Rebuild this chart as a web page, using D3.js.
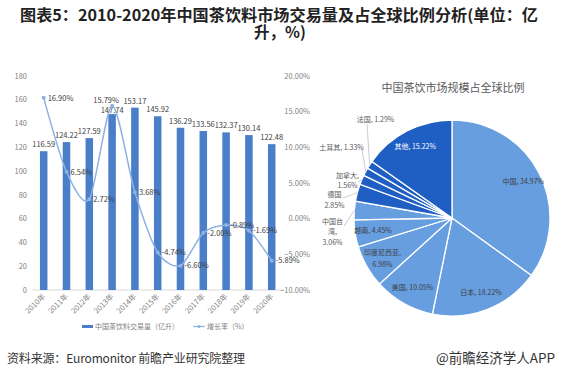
<!DOCTYPE html>
<html><head><meta charset="utf-8">
<script src="https://cdn.jsdelivr.net/npm/d3@7/dist/d3.min.js"></script>
<style>
body{margin:0;background:#fff;}
svg{display:block;font-family:"Noto Sans CJK SC","Noto Sans",sans-serif;}
</style>
</head><body>
<svg id="c" width="561" height="385"></svg>
<script>
// ---------- data ----------
const years = ["2010年","2011年","2012年","2013年","2014年","2015年","2016年","2017年","2018年","2019年","2020年"];
const volume = [116.59,124.22,127.59,147.74,153.17,145.92,136.29,133.56,132.37,130.14,122.48];
const growth = [16.90,6.54,2.72,15.79,3.68,-4.74,-6.60,-2.00,-0.89,-1.69,-5.89];
const leftTicks = [0,20,40,60,80,100,120,140,160,180];
const rightTicks = [-10,-5,0,5,10,15,20];
const countries = ["中国","日本","美国","印度尼西亚","越南","中国台湾","德国","加拿大","土耳其","法国","其他"];
const shares = [34.97,18.22,10.05,6.98,4.45,3.06,2.85,1.56,1.33,1.29,15.22];

const svg = d3.select("#c");

// ---------- title ----------
svg.append("text").attr("text-anchor","middle").attr("font-weight","bold")
  .attr("font-size",15.5).attr("fill","#222")
  .attr("x",279).attr("y",21).attr("textLength",518).attr("lengthAdjust","spacingAndGlyphs")
  .text("图表5：2010-2020年中国茶饮料市场交易量及占全球比例分析(单位：亿");
svg.append("text").attr("text-anchor","middle").attr("font-weight","bold")
  .attr("font-size",15.5).attr("fill","#222")
  .attr("x",280).attr("y",38).text("升，%)");

// ---------- left combo chart ----------
const x = d3.scaleBand().domain(years).range([32.3,283.1]).paddingInner(0.67).paddingOuter(0.335);
const yL = d3.scaleLinear().domain([0,180]).range([290,75.7]);
const yR = d3.scaleLinear().domain([-10,20]).range([290,75.7]);
const barColor = "#4a7ec8", lineColor = "#8fb2e2";

const g = svg.append("g");
g.append("line").attr("x1",32).attr("x2",283).attr("y1",yL(0)).attr("y2",yL(0)).attr("stroke","#d9d9d9");

const axL = d3.axisLeft(yL).tickValues(leftTicks).tickSize(0).tickPadding(0);
const gL = g.append("g").attr("transform","translate(27,0)").call(axL);
gL.select(".domain").remove();
gL.selectAll("text").attr("font-size",7.5).attr("fill","#7f7f7f").attr("font-family","'Noto Sans CJK SC'");

const axR = d3.axisRight(yR).tickValues(rightTicks).tickSize(0).tickPadding(0).tickFormat(d=>d3.format(".2f")(d)+"%");
const gR = g.append("g").attr("transform","translate(310,0)").call(axR);
gR.select(".domain").remove();
gR.selectAll("text").attr("text-anchor","end").attr("font-size",7.5).attr("fill","#7f7f7f").attr("font-family","'Noto Sans CJK SC'");

g.selectAll("rect.bar").data(volume).join("rect").attr("class","bar")
  .attr("x",(d,i)=>x(years[i])).attr("width",x.bandwidth())
  .attr("y",d=>yL(d)).attr("height",d=>yL(0)-yL(d)).attr("fill",barColor);
g.selectAll("text.bl").data(volume).join("text").attr("class","bl")
  .attr("x",(d,i)=>x(years[i])+x.bandwidth()/2).attr("y",(d,i)=>yL(d)-(i===3?1:4))
  .attr("text-anchor","middle").attr("font-size",7.5).attr("fill","#404040").text(d=>d.toFixed(2));

const cx = (i)=>x(years[i])+x.bandwidth()/2;
const line = d3.line().x((d,i)=>cx(i)).y(d=>yR(d)).curve(d3.curveCardinal.tension(0.2));
g.append("path").datum(growth).attr("d",line).attr("fill","none").attr("stroke",lineColor).attr("stroke-width",1.5);
g.selectAll("circle.pt").data(growth).join("circle").attr("class","pt")
  .attr("cx",(d,i)=>cx(i)).attr("cy",d=>yR(d)).attr("r",2).attr("fill",lineColor);
g.selectAll("text.gl").data(growth).join("text").attr("class","gl")
  .attr("x",(d,i)=>i===3?cx(i)-6:cx(i)+4)
  .attr("y",(d,i)=>i===3?yR(d)-3:yR(d)+2.7)
  .attr("text-anchor",(d,i)=>i===3?"middle":"start")
  .attr("font-size",7.5).attr("fill","#404040").text(d=>d.toFixed(2)+"%");

g.selectAll("text.xl").data(years).join("text").attr("class","xl")
  .attr("transform",d=>`translate(${x(d)+x.bandwidth()/2+2},${yL(0)+7}) rotate(-45)`)
  .attr("text-anchor","end").attr("font-size",7.5).attr("fill","#7f7f7f").text(d=>d);

const lg = g.append("g");
lg.append("rect").attr("x",82).attr("y",325).attr("width",11).attr("height",3).attr("fill",barColor);
lg.append("text").attr("x",95).attr("y",329).attr("font-size",7).attr("fill","#7f7f7f").text("中国茶饮料交易量（亿升）");
lg.append("line").attr("x1",193).attr("x2",205).attr("y1",326.5).attr("y2",326.5).attr("stroke",lineColor).attr("stroke-width",1.2);
lg.append("circle").attr("cx",199).attr("cy",326.5).attr("r",1.6).attr("fill",lineColor);
lg.append("text").attr("x",207).attr("y",329).attr("font-size",7).attr("fill","#7f7f7f").text("增长率（%）");

// ---------- pie ----------
const pc = [452,218], R = 98;
const pg = svg.append("g").attr("transform",`translate(${pc[0]},${pc[1]})`);
svg.append("text").attr("x",453).attr("y",92).attr("text-anchor","middle").attr("font-size",11)
  .attr("fill","#595959").text("中国茶饮市场规模占全球比例");
const pie = d3.pie().sort(null).value(d=>d);
const arcs = pie(shares);
const arc = d3.arc().innerRadius(0).outerRadius(R);
const lightBlue = "#669ee0", darkBlue = "#1f5ec3";
pg.selectAll("path").data(arcs).join("path").attr("d",arc)
  .attr("fill",(d,i)=>i<6?lightBlue:darkBlue).attr("stroke","#fff").attr("stroke-width",1.3);

const labArc = d3.arc().innerRadius(80).outerRadius(80);
const inside = {"中国":1,"日本":1,"美国":1,"印度尼西亚":2,"越南":1,"其他":1};
arcs.forEach((a,i)=>{
  const name = countries[i], val = shares[i].toFixed(2)+"%";
  if(inside[name]){
    const [lx,ly] = labArc.centroid(a);
    const t = pg.append("text").attr("text-anchor","middle").attr("font-size",7)
      .attr("fill",name==="其他"?"#fff":"#404040");
    if(inside[name]===2){
      t.append("tspan").attr("x",lx).attr("y",ly-3).text(name+",");
      t.append("tspan").attr("x",lx).attr("y",ly+9).text(val);
    } else {
      t.attr("x",lx).attr("y",ly+2.5).text(name+", "+val);
    }
  }
});

const outside = {
  "中国台湾":{lines:["中国台","湾,"], c:[-119.5,13.7], e:[-108,8]},
  "德国":{lines:["德国"], c:[-117.5,-18], e:[-109,-20]},
  "加拿大":{lines:["加拿大,"], c:[-104.5,-37.5], e:[-94,-36]},
  "土耳其":{lines:[], c:[-110.5,-71], e:[-90,-69]},
  "法国":{lines:[], c:[-76.5,-99], e:[-85,-94]}
};
arcs.forEach((a,i)=>{
  const name = countries[i], o = outside[name];
  if(!o) return;
  const val = shares[i].toFixed(2)+"%";
  const mid = (a.startAngle+a.endAngle)/2;
  const ex = R*Math.sin(mid), ey = -R*Math.cos(mid);
  pg.append("line").attr("x1",ex).attr("y1",ey).attr("x2",o.e[0]).attr("y2",o.e[1])
    .attr("stroke","#bfbfbf").attr("stroke-width",0.8);
  const lines = o.lines.length ? o.lines.concat([val]) : [name+", "+val];
  const t = pg.append("text").attr("text-anchor","middle").attr("font-size",7).attr("fill","#595959");
  const lh = 10.5, y0 = o.c[1] - (lines.length-1)*lh/2 + 2.5;
  lines.forEach((s,k)=>t.append("tspan").attr("x",o.c[0]).attr("y",y0+k*lh).text(s));
});

// ---------- footer ----------
svg.append("text").attr("x",7).attr("y",363).attr("font-size",12).attr("fill","#333")
  .attr("textLength",238).attr("lengthAdjust","spacing").text("资料来源：Euromonitor 前瞻产业研究院整理");
svg.append("text").attr("x",555).attr("y",363).attr("text-anchor","end").attr("font-size",13.5).attr("fill","#333")
  .text("@前瞻经济学人APP");
</script>
</body></html>
